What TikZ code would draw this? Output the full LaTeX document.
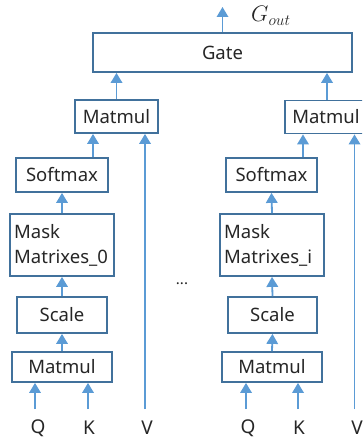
\documentclass[tikz,border=0pt]{standalone}
\usepackage{graphicx}
\usepackage{fontspec}
\setmainfont{Noto Sans}
\usetikzlibrary{arrows.meta,calc}
\definecolor{boxc}{HTML}{41719C}
\definecolor{arrc}{HTML}{5B9BD5}
\definecolor{txtc}{HTML}{262626}
\begin{document}
\begin{tikzpicture}[x=1pt,y=-1pt,
  box/.style={draw=boxc,line width=1.8pt,inner sep=0pt,text=txtc,font=\fontsize{18.5}{25}\selectfont},
  arr/.style={draw=arrc,line width=1.8pt,-{Triangle[width=11.5pt,length=10pt]}},
  lbl/.style={text=txtc,inner sep=0pt,font=\fontsize{19}{22}\selectfont}]
\useasboundingbox (0,0) rectangle (362,441);
\clip (0,0) rectangle (362,441);
% boxes
\node[box,minimum width=259pt,minimum height=39pt] (gate) at (222.5,52.5) {Gate};
\node[box,minimum width=83pt,minimum height=33pt] (mm1t) at (116.5,116.5) {Matmul};
\node[box,minimum width=84pt,minimum height=33pt] (mm2t) at (327,117) {\hspace*{-2pt}Matmul};
\node[box,minimum width=92pt,minimum height=34pt] (sm1) at (62,175) {Softmax};
\node[box,minimum width=91pt,minimum height=34pt] (sm2) at (271.5,175) {Softmax};
\node[box,minimum width=104pt,minimum height=62pt] (mask1) at (62,245) {};
\node[box,minimum width=104pt,minimum height=62pt] (mask2) at (272,245) {};
\node[lbl,anchor=west,align=left,font=\fontsize{18.5}{25}\selectfont] (mask1t) at (14,245) {Mask\\Matrixes\_0};
\node[lbl,anchor=west,align=left,font=\fontsize{18.5}{25}\selectfont] (mask2t) at (224,245) {Mask\\Matrixes\_i};
\node[box,minimum width=90pt,minimum height=36pt] (sc1) at (62,315) {Scale};
\node[box,minimum width=89pt,minimum height=36pt] (sc2) at (272.5,315) {Scale};
\node[box,minimum width=100pt,minimum height=30pt] (mmb1) at (62,367) {Matmul};
\node[box,minimum width=100pt,minimum height=30pt] (mmb2) at (272,367) {Matmul};
% labels
\node[lbl] (q1) at (38,428) {Q};
\node[lbl] (k1) at (89,428) {K};
\node[lbl] (v1) at (147,428) {V};
\node[lbl] (q2) at (248,428) {Q};
\node[lbl] (k2) at (299,428) {K};
\node[lbl] (v2) at (357,428) {V};
\node[lbl,font=\fontsize{15}{18}\selectfont] (dots) at (182,284) {...};
\node[lbl,font=\fontsize{17.28}{20}\selectfont] (gout) at (271,16) {\scalebox{1.3}{$G_{out}$}};
% coordinates
\coordinate (out) at (222.5,7);
\coordinate (qa) at (35,409);
\coordinate (ka) at (88,409);
\coordinate (va) at (145,409);
\coordinate (qb) at (246,409);
\coordinate (kb) at (298,409);
\coordinate (vb) at (354.5,409);
\coordinate (sa) at (93,0);
\coordinate (sb) at (303,0);
% left column
\draw[arr] (qa) -- (qa |- mmb1.south);
\draw[arr] (ka) -- (ka |- mmb1.south);
\draw[arr] (mmb1.north) -- (sc1.south);
\draw[arr] (sc1.north) -- (mask1.south);
\draw[arr] (mask1.north) -- (sm1.south);
\draw[arr] (sm1.north -| sa) -- (mm1t.south -| sa);
\draw[arr] (va) -- (va |- mm1t.south);
\draw[arr] (mm1t.north) -- (mm1t.north |- gate.south);
% right column
\draw[arr] (qb) -- (qb |- mmb2.south);
\draw[arr] (kb) -- (kb |- mmb2.south);
\draw[arr] (mmb2.north) -- (sc2.south);
\draw[arr] (sc2.north) -- (mask2.south);
\draw[arr] (mask2.north) -- (sm2.south);
\draw[arr] (sm2.north -| sb) -- (mm2t.south -| sb);
\draw[arr] (vb) -- (vb |- mm2t.south);
\draw[arr] (mm2t.north) -- (mm2t.north |- gate.south);
% output
\draw[arr] (gate.north) -- (out);
\end{tikzpicture}
\end{document}
